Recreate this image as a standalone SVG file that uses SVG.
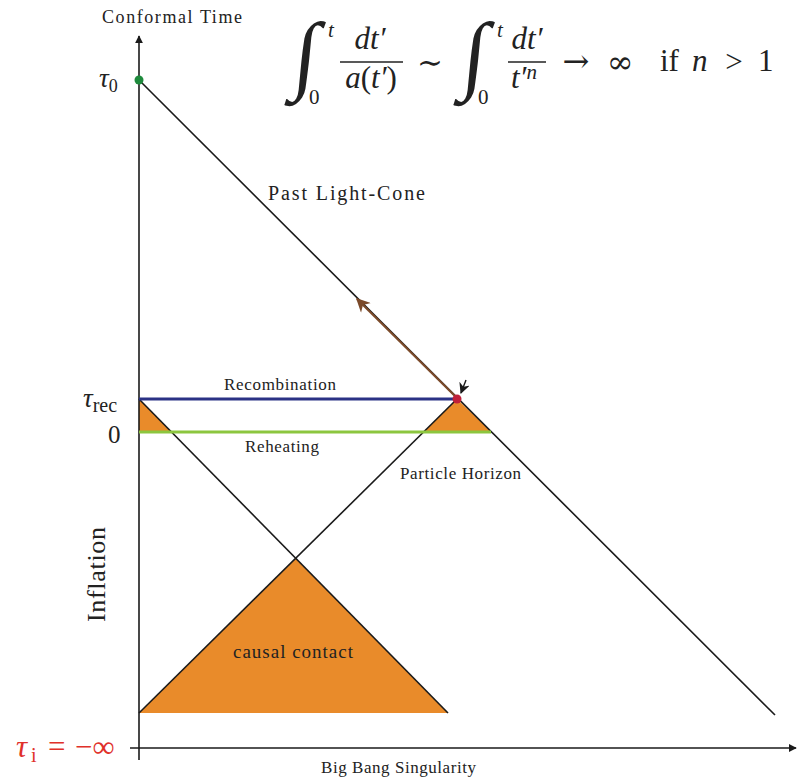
<svg xmlns="http://www.w3.org/2000/svg" width="800" height="777" viewBox="0 0 800 777">
<defs>
<style>
text{font-family:"Liberation Serif","DejaVu Serif",serif;fill:#222}
.lbl{font-size:17px}
.m{font-size:31px}
.mi{font-size:31px;font-style:italic}
.lim{font-size:21px}
.ln{stroke:#1a1a1a;stroke-width:1.6;fill:none}
.orange{fill:#E98B2A}
.red{fill:#E0302A}
</style>
<marker id="ah" viewBox="0 0 10 10" refX="9" refY="5" markerWidth="8" markerHeight="8" orient="auto" markerUnits="userSpaceOnUse"><path d="M0,0 L10,5 L0,10 z" fill="#1a1a1a"/></marker>
<marker id="bh" viewBox="0 0 10 10" refX="9" refY="5" markerWidth="17" markerHeight="14" orient="auto" markerUnits="userSpaceOnUse"><path d="M0,0 L10,5 L0,10 L3,5 z" fill="#7B4A2A"/></marker>
<marker id="kh" viewBox="0 0 10 10" refX="9" refY="5" markerWidth="11" markerHeight="11" orient="auto" markerUnits="userSpaceOnUse"><path d="M0,0 L10,5 L0,10 L3,5 z" fill="#1a1a1a"/></marker>
</defs>
<rect width="800" height="777" fill="#fff"/>

<g id="regions">
<polygon class="orange" points="139,713 295.7,558.3 448,713"/>
<polygon class="orange" points="139,399 139,432 171.5,432"/>
<polygon class="orange" points="457,399 423.6,432 491.6,432"/>
</g>

<g id="connectors">
<line class="ln" x1="139" y1="760" x2="139" y2="36" marker-end="url(#ah)"/>
<line class="ln" x1="130" y1="748" x2="796" y2="748" marker-end="url(#ah)"/>
<line class="ln" x1="139" y1="80" x2="775" y2="715"/>
<line class="ln" x1="139" y1="713" x2="457" y2="399"/>
<line class="ln" x1="139" y1="399" x2="448" y2="713"/>
<line x1="139" y1="399" x2="457" y2="399" stroke="#2B3285" stroke-width="3"/>
<line x1="139" y1="432" x2="491" y2="432" stroke="#8CC63F" stroke-width="3"/>
<line x1="456" y1="397" x2="357" y2="299" stroke="#7B4A2A" stroke-width="2.2" marker-end="url(#bh)"/>
<line x1="466" y1="380" x2="461" y2="393" stroke="#1a1a1a" stroke-width="1.4" marker-end="url(#kh)"/>
</g>

<g id="points">
<circle cx="139" cy="80" r="4.5" fill="#1E8A3C"/>
<circle cx="457" cy="399" r="4.5" fill="#C0203A"/>
</g>

<g id="labels">
<text x="102" y="23" font-size="18" textLength="140" lengthAdjust="spacing">Conformal Time</text>
<text x="268" y="200" font-size="20" textLength="157" lengthAdjust="spacing">Past Light-Cone</text>
<text class="lbl" x="224" y="390" textLength="112" lengthAdjust="spacing">Recombination</text>
<text class="lbl" x="245" y="452" textLength="74" lengthAdjust="spacing">Reheating</text>
<text class="lbl" x="400" y="479" textLength="121" lengthAdjust="spacing">Particle Horizon</text>
<text x="233" y="658" font-size="19" textLength="120" lengthAdjust="spacing">causal contact</text>
<text x="321" y="773" class="lbl" textLength="155" lengthAdjust="spacing">Big Bang Singularity</text>
<text x="105" y="622" font-size="26" textLength="95" lengthAdjust="spacing" transform="rotate(-90 105 622)">Inflation</text>
<text x="99" y="87" font-size="27" font-style="italic">τ<tspan font-style="normal" font-size="18" dy="5">0</tspan></text>
<text x="83" y="407" font-size="27" font-style="italic">τ<tspan font-style="normal" font-size="20" dy="5">rec</tspan></text>
<text x="108" y="443" font-size="25">0</text>
<text class="red" x="16" y="757" font-size="31" font-style="italic">τ</text>
<text class="red" x="31" y="762" font-size="20">i</text>
<text class="red" x="48" y="757" font-size="31">=</text>
<text class="red" x="75" y="757" font-size="31">−∞</text>
</g>

<g id="formula">
<text x="292" y="83" font-size="87" transform="skewX(-6) translate(8 0)">∫</text>
<text x="328" y="37" class="lim" font-style="italic">t</text>
<text x="309" y="104" class="lim">0</text>
<text x="370" y="49" class="mi" text-anchor="middle">dt′</text>
<line x1="340" y1="62" x2="403" y2="62" stroke="#222" stroke-width="1.4"/>
<text x="371" y="88" class="mi" text-anchor="middle">a<tspan font-style="normal">(</tspan>t′<tspan font-style="normal">)</tspan></text>
<text x="430" y="73" class="m" text-anchor="middle">∼</text>
<text x="461" y="83" font-size="87" transform="skewX(-6) translate(8 0)">∫</text>
<text x="497" y="37" class="lim" font-style="italic">t</text>
<text x="478" y="104" class="lim">0</text>
<text x="527" y="49" class="mi" text-anchor="middle">dt′</text>
<line x1="508" y1="62" x2="546" y2="62" stroke="#222" stroke-width="1.4"/>
<text x="511" y="88" class="mi">t′<tspan font-size="21" dy="-9">n</tspan></text>
<text x="576" y="72" font-size="32" text-anchor="middle" style="font-family:'DejaVu Serif',serif">→</text>
<text x="620" y="73" font-size="32" text-anchor="middle" style="font-family:'DejaVu Serif',serif">∞</text>
<text x="660" y="71" class="m">if</text>
<text x="692" y="71" class="mi">n</text>
<text x="734" y="72" class="m" text-anchor="middle">&gt;</text>
<text x="758" y="71" class="m">1</text>
</g>
</svg>
